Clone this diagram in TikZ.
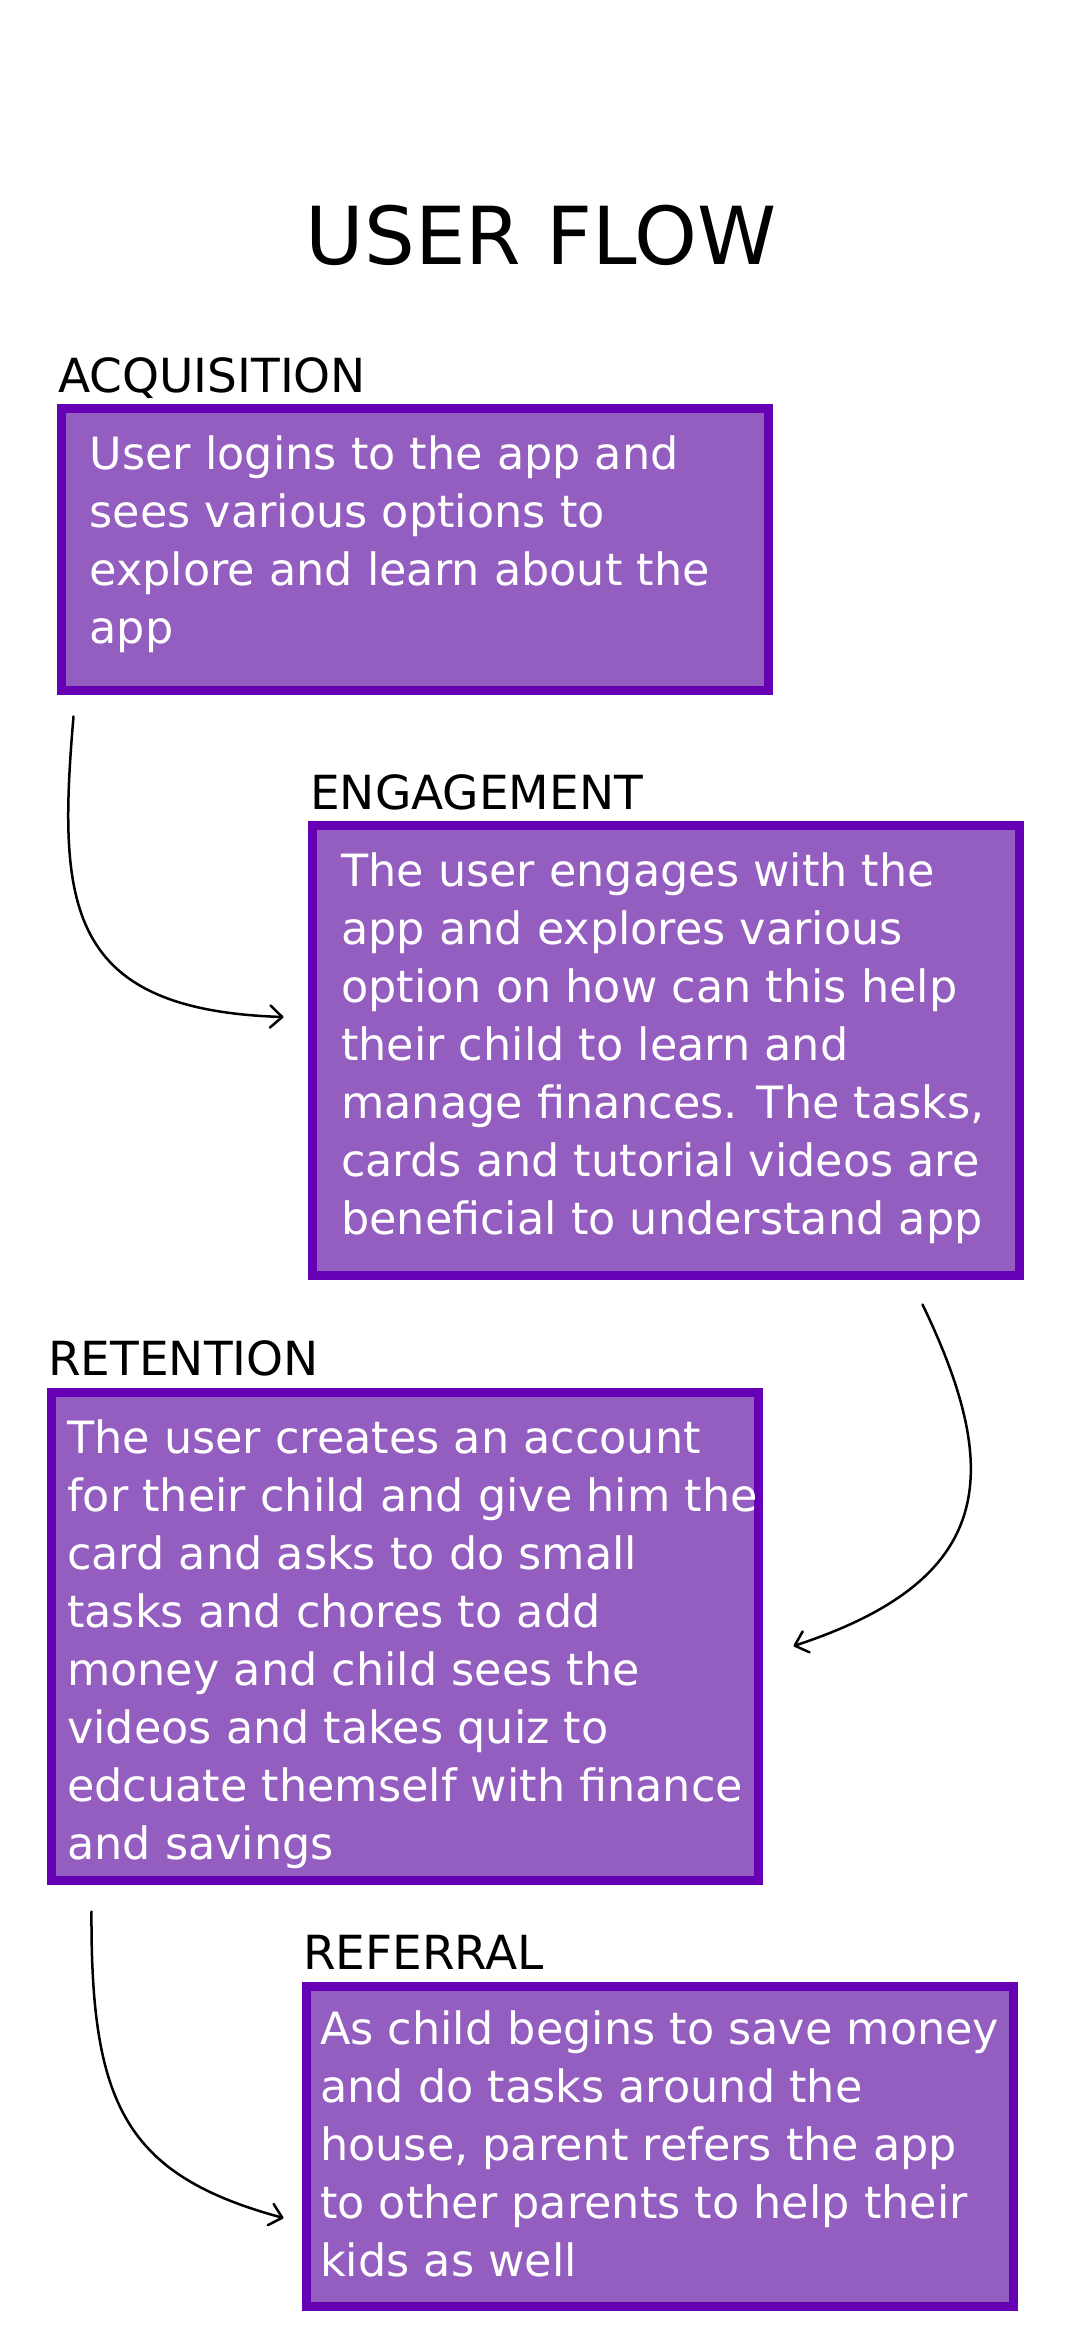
\documentclass[tikz,border=0pt]{standalone}
\usepackage{fontspec}
\setmainfont{DejaVu Sans}
\usetikzlibrary{arrows.meta}

\definecolor{stageedge}{HTML}{6600B4}
\definecolor{stagefill}{HTML}{945DC0}

\tikzset{
  stagebox/.style={draw=stageedge, fill=stagefill, line width=9pt, inner sep=0pt},
  stagetext/.style={anchor=base west, inner sep=0pt, text=white,
    font=\fontsize{44.5}{58}\selectfont},
  stagehead/.style={anchor=base west, inner sep=0pt, text=black,
    font=\fontsize{47}{56}\selectfont},
  flow/.style={line width=2.5pt, line cap=round,
    -{Straight Barb[length=12pt,width=22pt,line cap=round,line join=round]}},
}

\newcommand{\lines}[1]{\parbox[t]{800pt}{\raggedright #1}}

\begin{document}
\begin{tikzpicture}[x=1pt,y=-1pt]
\fill[white] (0,0) rectangle (1080,2340);
\useasboundingbox (0,0) rectangle (1080,2340);

% title
\node[anchor=base, inner sep=0pt, font=\fontsize{80}{96}\selectfont] (title) at (541,264) {USER FLOW};

% stage headings
\node[stagehead] (h1) at (58,392)  {ACQUISITION};
\node[stagehead] (h2) at (310,809) {ENGAGEMENT};
\node[stagehead] (h3) at (48,1375) {RETENTION};
\node[stagehead] (h4) at (303,1969) {REFERRAL};

% stage boxes
\node[stagebox, minimum width=707pt, minimum height=282pt] (b1) at (415,549.5) {};
\node[stagebox, minimum width=707pt, minimum height=450pt] (b2) at (666,1050.5) {};
\node[stagebox, minimum width=707pt, minimum height=488pt] (b3) at (405,1636.5) {};
\node[stagebox, minimum width=707pt, minimum height=320pt] (b4) at (660,2146.5) {};

% stage descriptions
\node[stagetext] (t1) at (89.5,469) {\lines{User logins to the app and\\
sees various options to\\
explore and learn about the\\
app}};
\node[stagetext] (t2) at (341,886) {\lines{The user engages with the\\
app and explores various\\
option on how can this help\\
their child to learn and\\
manage finances. The tasks,\\
cards and tutorial videos are\\
beneficial to understand app}};
\node[stagetext] (t3) at (67,1453) {\lines{The user creates an account\\
for their child and give him the\\
card and asks to do small\\
tasks and chores to add\\
money and child sees the\\
videos and takes quiz to\\
edcuate themself with finance\\
and savings}};
\node[stagetext] (t4) at (320,2044) {\lines{As child begins to save money\\
and do tasks around the\\
house, parent refers the app\\
to other parents to help their\\
kids as well}};

% flow connectors
\draw[flow] ([shift={(16.5,21.5)}]b1.south west)
  .. controls +(-16,188) and +(-218,-7) .. ([shift={(-24.5,-33.5)}]b2.west);
\draw[flow] ([shift={(-101.5,24.5)}]b2.south east)
  .. controls +(82,170) and +(201,-66) .. ([shift={(30.5,9.5)}]b3.east);
\draw[flow] ([shift={(44.5,26.5)}]b3.south west)
  .. controls +(-1,193) and +(-158,-43) .. ([shift={(-18.5,71.5)}]b4.west);
\end{tikzpicture}
\end{document}
